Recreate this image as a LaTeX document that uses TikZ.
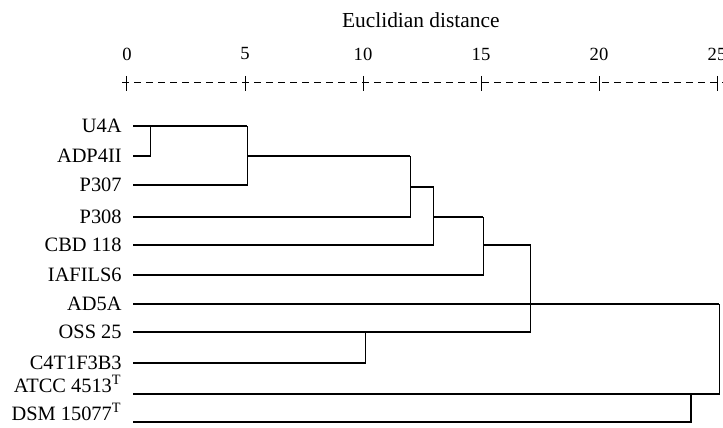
\documentclass[tikz,border=0pt]{standalone}
\usepackage{fontspec}
\setmainfont{Liberation Serif}
\usetikzlibrary{positioning}

\begin{document}
\begin{tikzpicture}[x=11.8pt,y=-0.5pt,font=\fontsize{10.2}{12}\selectfont,
    leaf/.style={anchor=east,inner sep=0pt,text height=6.5pt,text depth=0pt},
    typestrain/.style={leaf,text height=0pt,text depth=2pt},
    tick/.style={font=\fontsize{9.3}{11}\selectfont},
    link/.style={line width=0.6pt},
    branch/.style={link,shorten <=5.5pt},
    axis/.style={line width=0.5pt}]
    \useasboundingbox (-5.381,0) rectangle (25.254,427);
    % scale
    \node[font=\fontsize{10.7}{12}\selectfont] (TITLE) at (12.45,20) {Euclidian distance};
    \draw[axis,dash pattern=on 3.5pt off 2.5pt] (-0.2,83) -- (25.254,83);
    \foreach \d in {0,5,...,25} {
        \node[tick] (T\d) at (\d,54) {\d};
        \draw[axis] (\d,76) -- (\d,91);
    }
    % strains
    \node[leaf] (U4A)      at (-0.21,126) {U4A};
    \node[leaf] (ADP4II)   at (-0.21,156) {ADP4II};
    \node[leaf] (P307)     at (-0.21,185) {P307};
    \node[leaf] (P308)     at (-0.21,217) {P308};
    \node[leaf] (CBD118)   at (-0.21,245) {CBD 118};
    \node[leaf] (IAFILS6)  at (-0.21,275) {IAFILS6};
    \node[leaf] (AD5A)     at (-0.21,304) {AD5A};
    \node[leaf] (OSS25)    at (-0.21,332) {OSS 25};
    \node[leaf] (C4T1F3B3) at (-0.21,363) {C4T1F3B3};
    \node[typestrain] (ATCC) at (-0.21,394) {ATCC 4513$^{\mathrm{T}}$};
    \node[typestrain] (DSM)  at (-0.21,422) {DSM 15077$^{\mathrm{T}}$};
    % joins
    \coordinate (K1) at (1.0,126);
    \coordinate (K2) at (5.1,126);  \coordinate (C2) at (5.1,156);
    \coordinate (K3) at (12.0,156); \coordinate (C3) at (12.0,187);
    \coordinate (K4) at (13.0,187); \coordinate (C4) at (13.0,217);
    \coordinate (K5) at (15.1,217); \coordinate (C5) at (15.1,245);
    \coordinate (K6) at (17.1,245);
    \coordinate (K7) at (10.1,332);
    \coordinate (K8) at (23.9,394);
    \coordinate (K9) at (25.1,304);
    \draw[branch] (U4A.east) -- (K2);
    \draw[branch] (ADP4II.east) -| (K1);
    \draw[branch] (P307.east) -| (K2);
    \draw[link] (C2) -- (K3);
    \draw[branch] (P308.east) -| (K3);
    \draw[link] (C3) -- (K4);
    \draw[branch] (CBD118.east) -| (K4);
    \draw[link] (C4) -- (K5);
    \draw[branch] (IAFILS6.east) -| (K5);
    \draw[link] (C5) -- (K6);
    \draw[branch] (OSS25.east) -| (K6);
    \draw[branch] (C4T1F3B3.east) -| (K7);
    \draw[branch] (AD5A.east) -- (K9);
    \draw[branch] (ATCC.east) -| (K9);
    \draw[branch] (DSM.east) -| (K8);
\end{tikzpicture}
\end{document}
